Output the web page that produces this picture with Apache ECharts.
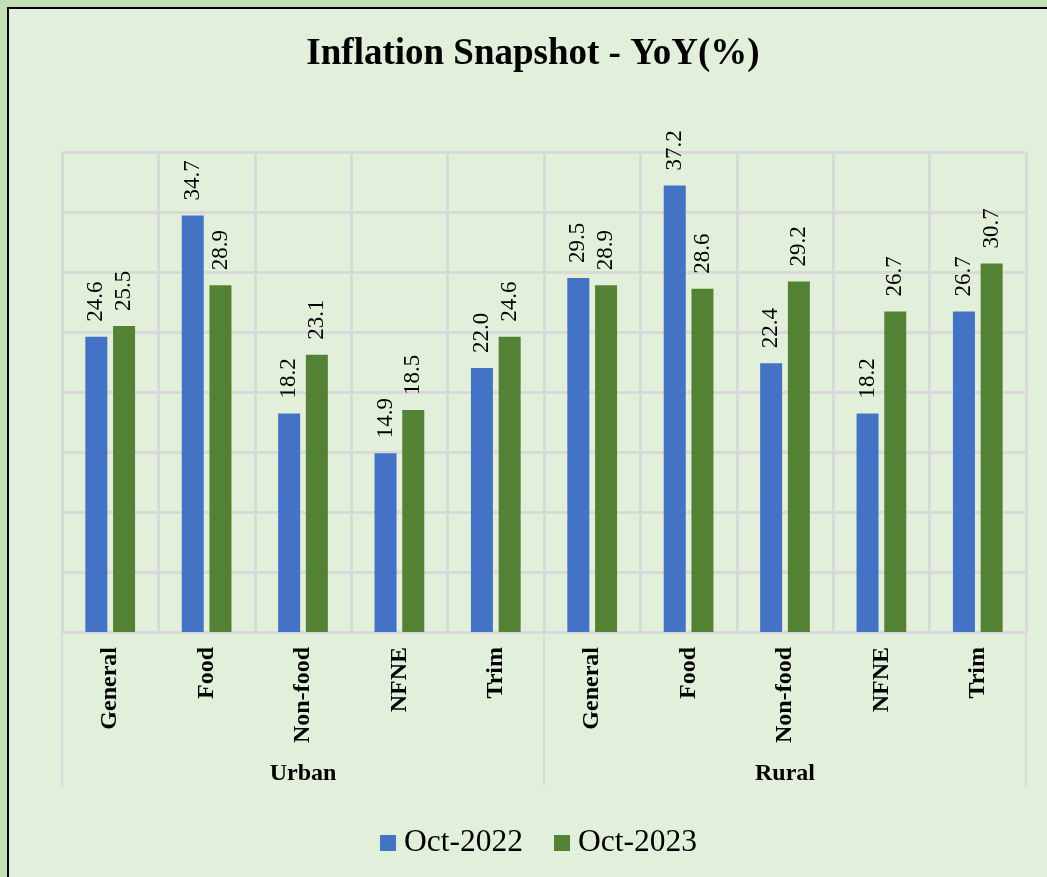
<!DOCTYPE html>
<html>
<head>
<meta charset="utf-8">
<title>Inflation Snapshot - YoY(%)</title>
<script src="https://cdn.jsdelivr.net/npm/echarts@6/dist/echarts.min.js"></script>
<style>
  html, body {
    margin: 0;
    padding: 0;
    width: 1047px;
    height: 877px;
    overflow: hidden;
    background: #c5e0b4;
  }
  /* inner panel with the dark frame, cropped on the right and bottom */
  #frame {
    position: absolute;
    left: 7px;
    top: 7px;
    width: 1060px;
    height: 890px;
    border: 2px solid #000;
    background: #e2efda;
  }
  #chart {
    position: absolute;
    left: 0;
    top: 0;
    width: 1047px;
    height: 877px;
  }
</style>
</head>
<body>
<div id="frame"></div>
<div id="chart"></div>
<script>
// categories (two-level axis)
const groups = ['Urban', 'Rural']
const items = ['General', 'Food', 'Non-food', 'NFNE', 'Trim']
const categories = ['General', 'Food', 'Non-food', 'NFNE', 'Trim', 'General', 'Food', 'Non-food', 'NFNE', 'Trim']
// YoY (%)
const oct2022 = [24.6, 34.7, 18.2, 14.9, 22.0, 29.5, 37.2, 22.4, 18.2, 26.7]
const oct2023 = [25.5, 28.9, 23.1, 18.5, 24.6, 28.9, 28.6, 29.2, 26.7, 30.7]

const serif = "'Liberation Serif', 'Times New Roman', serif"
const gridColor = '#d9d9d9'

const myChart = echarts.init(document.getElementById('chart'))

// 数值标签 竖排
const valueLabel = {
  show: true,
  position: 'top',
  rotate: 90,
  align: 'left',
  verticalAlign: 'middle',
  distance: 15,
  fontFamily: serif,
  fontSize: 23,
  color: '#000',
  formatter: (p) => p.value.toFixed(1)
}

myChart.setOption({
  backgroundColor: 'transparent',
  title: {
    text: 'Inflation Snapshot - YoY(%)',
    left: 528,
    textAlign: 'center',
    top: 31,
    textStyle: {
      fontFamily: serif,
      fontSize: 37,
      fontWeight: 'bold',
      color: '#000'
    }
  },
  legend: {
    bottom: 13,
    left: 375,
    icon: 'rect',
    itemWidth: 16,
    itemHeight: 16,
    itemGap: 31,
    textStyle: {
      fontFamily: serif,
      fontSize: 31.5,
      color: '#000',
      padding: [0, 0, 0, 3]
    },
    data: ['Oct-2022', 'Oct-2023']
  },
  grid: {
    left: 62,
    right: 21,
    top: 152,
    bottom: 245,
    containLabel: false
  },
  xAxis: [
    {
      type: 'category',
      data: categories,
      axisLine: { show: true, lineStyle: { color: gridColor, width: 3 } },
      axisTick: { show: false },
      splitLine: { show: true, interval: 0, lineStyle: { color: gridColor, width: 3 } },
      axisLabel: {
        interval: 0,
        rotate: 90,
        margin: 15,
        fontFamily: serif,
        fontSize: 24,
        fontWeight: 'bold',
        color: '#000'
      }
    },
    {
      // 分组标签 Urban / Rural
      type: 'category',
      position: 'bottom',
      offset: 0,
      data: groups,
      axisLine: { show: false },
      axisTick: { show: true, interval: 0, length: 154, lineStyle: { color: gridColor, width: 2 } },
      splitLine: { show: false },
      axisLabel: {
        interval: 0,
        margin: 130,
        fontFamily: serif,
        fontSize: 24,
        fontWeight: 'bold',
        color: '#000'
      }
    }
  ],
  yAxis: {
    type: 'value',
    min: 0,
    max: 40,
    interval: 5,
    axisLabel: { show: false },
    axisLine: { show: false },
    axisTick: { show: false },
    splitLine: { lineStyle: { color: gridColor, width: 3 } }
  },
  series: [
    {
      name: 'Oct-2022',
      type: 'bar',
      xAxisIndex: 0,
      barWidth: 22,
      barGap: '26%',
      itemStyle: { color: '#4472c4' },
      label: valueLabel,
      data: oct2022
    },
    {
      name: 'Oct-2023',
      type: 'bar',
      xAxisIndex: 0,
      barWidth: 22,
      barGap: '26%',
      itemStyle: { color: '#548235' },
      label: valueLabel,
      data: oct2023
    }
  ]
})
</script>
</body>
</html>
